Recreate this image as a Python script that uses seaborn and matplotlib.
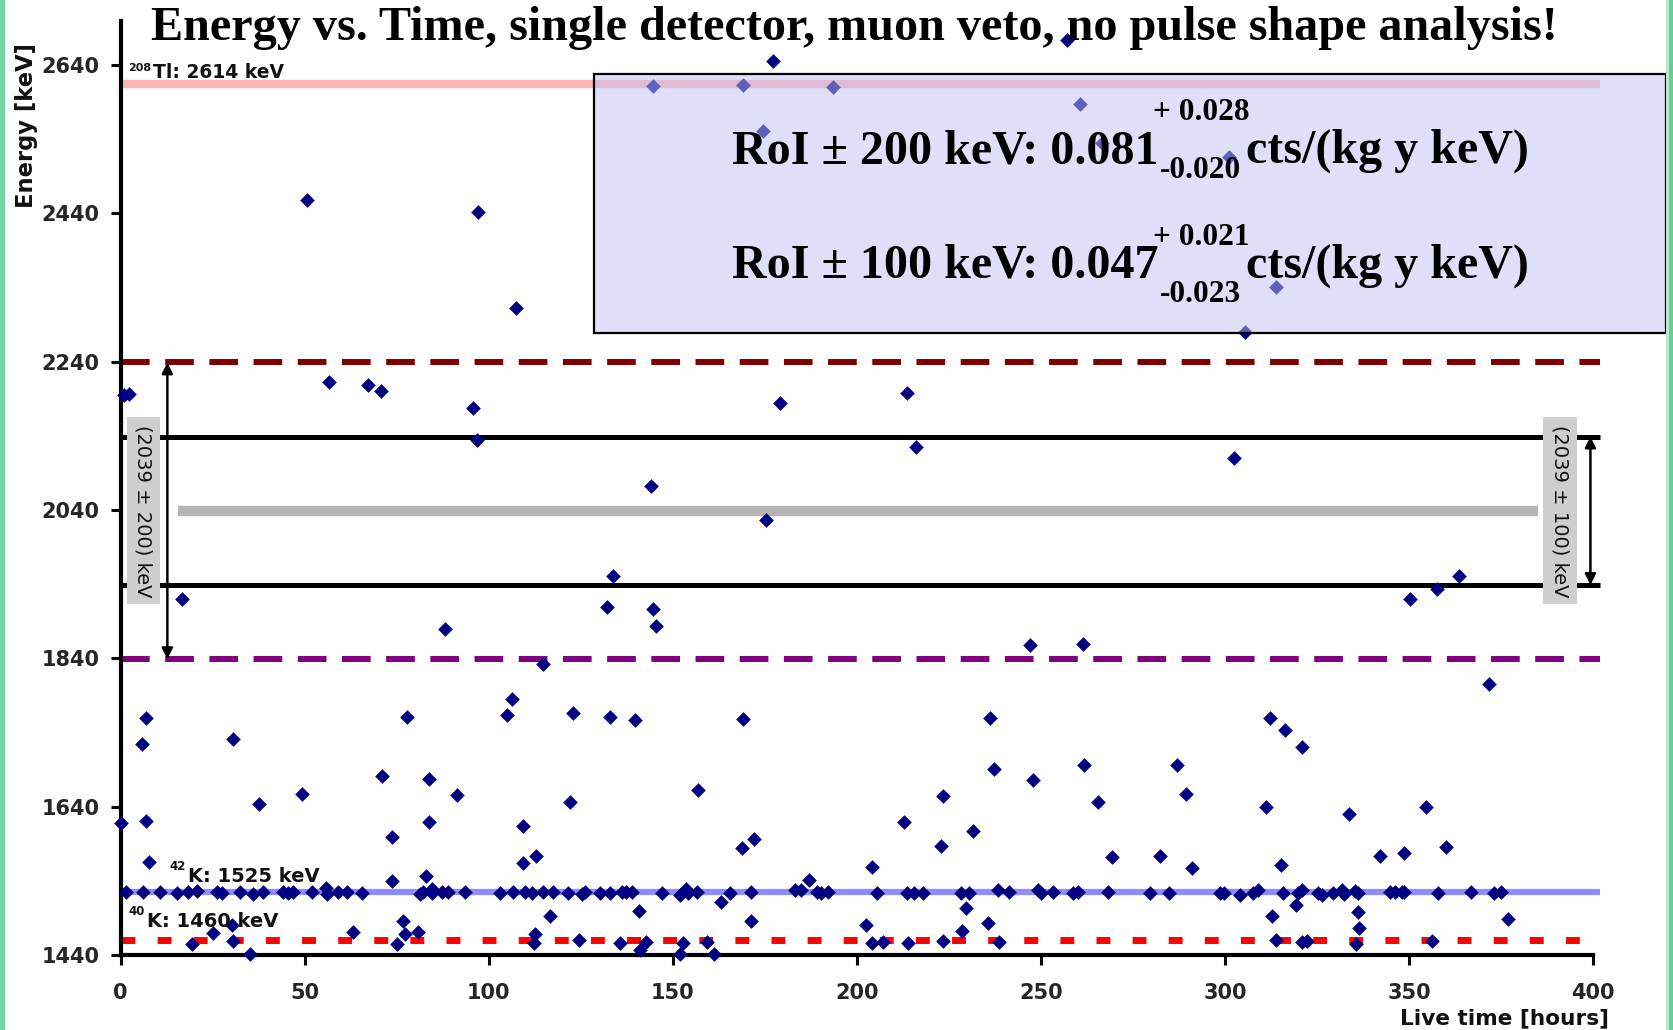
import numpy as np
import pandas as pd
import matplotlib
matplotlib.use("Agg")
import matplotlib.pyplot as plt
import seaborn as sns
from matplotlib.patches import Rectangle

# ---- event list: live time [hours] and energy [keV] ----
hours = [
    # high-energy events
    50.7, 97.1, 107.3, 144.6, 169.1, 193.4, 177.1, 174.4, 257.0, 260.5,
    266.6, 301.1, 313.9, 305.4,
    # 1800 - 2240 keV
    1.0, 2.3, 56.5, 67.3, 70.7, 95.7, 96.7, 144.1, 179.1, 175.4,
    16.6, 88.1, 133.8, 132.1, 144.7, 145.5, 114.7, 213.6, 216.2, 302.6,
    350.2, 357.7, 363.7, 247.0, 261.5, 371.7,
    # 1690 - 1800 keV
    7.0, 5.9, 30.5, 77.8, 106.3, 105.0, 123.0, 133.0, 139.8, 169.0,
    236.2, 312.3, 316.3, 321.0, 237.3, 261.8, 287.1,
    # 1540 - 1690 keV
    0.0, 6.8, 7.7, 37.6, 49.3, 71.1, 83.9, 91.4, 83.9, 73.8,
    73.7, 82.9, 122.1, 109.3, 109.3, 112.8, 156.8, 168.9, 172.1, 212.8,
    223.5, 222.8, 231.7, 247.9, 265.5, 204.0, 187.0, 289.3, 311.1, 333.8,
    354.6, 269.2, 282.4, 291.1, 315.2, 342.1, 348.7, 360.1,
    # below the 42K line
    116.7, 112.5, 112.3, 124.5, 76.8, 77.3, 80.9, 75.2, 63.1, 35.2,
    30.3, 30.5, 25.0, 19.5, 140.9, 171.3, 163.0, 229.7, 228.7, 235.7,
    202.5, 135.7, 141.1, 142.7, 152.0, 152.9, 159.4, 161.2, 204.0, 207.2,
    214.0, 223.5, 238.7, 312.9, 319.3, 336.2, 336.4, 377.0, 313.8, 320.9,
    322.4, 335.5, 356.2,
    # on the 42K line
    1.6, 6.2, 10.7, 15.2, 18.4, 20.8, 26.1, 27.5, 32.4, 36.1,
    38.8, 44.2, 45.6, 46.9, 51.9, 55.7, 56.0, 59.1, 61.4, 65.5,
    81.3, 82.2, 84.5, 84.5, 87.2, 89.0, 93.6, 103.1, 106.7, 109.9,
    111.7, 114.8, 117.5, 121.6, 125.3, 126.2, 130.2, 133.0, 136.1, 137.3,
    138.8, 147.0, 152.0, 153.6, 154.2, 156.5, 165.6, 171.3, 183.2, 184.8,
    189.1, 190.2, 192.3, 205.6, 213.7, 215.6, 217.9, 228.3, 230.5, 238.3,
    241.4, 249.1, 250.0, 253.4, 258.7, 260.2, 268.3, 279.6, 284.8, 298.7,
    299.8, 304.1, 307.7, 309.1, 315.7, 319.9, 321.0, 325.4, 326.5, 329.4,
    331.7, 332.4, 335.3, 336.2, 344.9, 346.2, 348.0, 348.7, 358.0, 366.9,
    373.2, 375.0,
]
energy_kev = [
    2458, 2442, 2313, 2612, 2613, 2610, 2645, 2551, 2674, 2588,
    2535, 2516, 2341, 2280,
    2195, 2196, 2212, 2209, 2201, 2177, 2134, 2072, 2185, 2027,
    1920, 1880, 1951, 1909, 1907, 1884, 1832, 2198, 2125, 2110,
    1920, 1934, 1951, 1858, 1860, 1806,
    1760, 1724, 1731, 1761, 1785, 1763, 1767, 1761, 1757, 1758,
    1759, 1760, 1743, 1720, 1691, 1696, 1696,
    1618, 1621, 1565, 1644, 1657, 1681, 1678, 1656, 1619, 1599,
    1540, 1547, 1646, 1614, 1564, 1574, 1662, 1584, 1596, 1620,
    1655, 1587, 1607, 1676, 1646, 1558, 1541, 1657, 1639, 1630,
    1639, 1572, 1574, 1557, 1561, 1574, 1578, 1585,
    1492, 1468, 1456, 1460, 1486, 1468, 1471, 1455, 1471, 1442,
    1480, 1459, 1470, 1455, 1500, 1486, 1512, 1504, 1472, 1483,
    1481, 1456, 1447, 1457, 1442, 1456, 1458, 1441, 1456, 1458,
    1456, 1459, 1458, 1493, 1507, 1498, 1477, 1489, 1460, 1458,
    1459, 1455, 1459,
    1525, 1525, 1525, 1523, 1525, 1526, 1525, 1523, 1525, 1522,
    1525, 1525, 1523, 1525, 1525, 1531, 1522, 1525, 1525, 1524,
    1522, 1525, 1529, 1524, 1525, 1525, 1525, 1524, 1525, 1525,
    1523, 1525, 1525, 1523, 1522, 1525, 1524, 1524, 1525, 1525,
    1525, 1523, 1521, 1529, 1524, 1525, 1524, 1525, 1527, 1527,
    1525, 1523, 1525, 1524, 1524, 1524, 1524, 1523, 1524, 1527,
    1525, 1527, 1524, 1525, 1524, 1525, 1525, 1524, 1524, 1524,
    1524, 1521, 1523, 1527, 1523, 1523, 1527, 1523, 1521, 1524,
    1528, 1522, 1526, 1524, 1525, 1525, 1525, 1525, 1524, 1525,
    1524, 1525,
]

x_ticks = [0, 50, 100, 150, 200, 250, 300, 350, 400]
y_ticks = [1440, 1640, 1840, 2040, 2240, 2440, 2640]

# reference energies [keV]
e_tl208 = 2614
e_k42 = 1525
e_k40 = 1460
q_bb = 2039
roi_wide = 200
roi_narrow = 100

events = pd.DataFrame({"hours": hours, "energy": energy_kev})

sns.set_style("ticks")
plt.rcParams["font.family"] = ["DejaVu Sans"]

W, H = 1673, 1030
fig = plt.figure(figsize=(W / 100, H / 100), dpi=100)
fig.patch.set_facecolor("white")


def fx(px):
    return px / W


def fy(py):
    return 1 - py / H


def fit_width(t, width_px):
    r = fig.canvas.get_renderer()
    w = t.get_window_extent(r).width
    t.set_fontsize(t.get_fontsize() * width_px / w)


def fit_height(t, height_px):
    r = fig.canvas.get_renderer()
    h = t.get_window_extent(r).height
    t.set_fontsize(t.get_fontsize() * height_px / h)


ax = fig.add_axes([fx(120.6), fy(955), (1593 - 120.6) / W, (955 - 20.6) / H])
ax.set_xlim(0, 400)
ax.set_ylim(1440, 2700)

# horizontal reference lines
x_end = 402
ax.plot([0, x_end], [e_tl208] * 2, color="#ffb4b4", lw=6, clip_on=False, zorder=2,
        solid_capstyle="butt")
ax.plot([0, x_end], [q_bb + roi_wide] * 2, color="#800000", lw=4.3,
        linestyle=(0, (4.8, 2.6)), clip_on=False, zorder=2)
ax.plot([0, x_end], [q_bb + roi_narrow] * 2, color="black", lw=3.6, clip_on=False,
        zorder=2, solid_capstyle="butt")
ax.plot([15.7, 385], [q_bb] * 2, color="#b4b4b4", lw=7.5, zorder=2,
        solid_capstyle="butt")
ax.plot([0, x_end], [q_bb - roi_narrow] * 2, color="black", lw=3.6, clip_on=False,
        zorder=2, solid_capstyle="butt")
ax.plot([0, x_end], [q_bb - roi_wide] * 2, color="#800080", lw=4.3,
        linestyle=(0, (4.8, 2.6)), clip_on=False, zorder=2)
ax.plot([0, x_end], [e_k42] * 2, color="#8c8cff", lw=4.5, clip_on=False, zorder=2,
        solid_capstyle="butt")
ax.plot([0, x_end], [e_k40] * 2, color="#ff0000", lw=5,
        linestyle=(0, (2.0, 3.2)), clip_on=False, zorder=2)

# events
sns.scatterplot(data=events, x="hours", y="energy", marker="D", s=56,
                color="#000080", linewidth=0, ax=ax, zorder=4, clip_on=False,
                legend=False)

# RoI arrows and labels
arrow_kw = dict(arrowstyle="<|-|>", lw=1.8, color="black", mutation_scale=16,
                shrinkA=0, shrinkB=0)
ax.annotate("", xy=(12.7, q_bb - roi_wide), xytext=(12.7, q_bb + roi_wide),
            arrowprops=arrow_kw, zorder=5)
ax.annotate("", xy=(399.3, q_bb - roi_narrow), xytext=(399.3, q_bb + roi_narrow),
            arrowprops=arrow_kw, zorder=5, annotation_clip=False)

roi_box = dict(boxstyle="square,pad=0.38", fc="#cecece", ec="none")
ax.text(6.2, q_bb, f"({q_bb} \u00b1 {roi_wide}) keV", rotation=-90, ha="center",
        va="center", fontsize=14, color="#111111", bbox=roi_box, zorder=6)
ax.text(391.0, q_bb, f"({q_bb} \u00b1 {roi_narrow}) keV", rotation=-90, ha="center",
        va="center", fontsize=14, color="#111111", bbox=roi_box, zorder=6,
        clip_on=False)

# line labels
lab_kw = dict(fontweight="bold", color="#111111", zorder=6, va="baseline")
ax.text(2.0, 2632, "208", fontsize=8, **lab_kw)
ax.text(8.8, 2623, f"Tl: {e_tl208} keV", fontsize=13.5, **lab_kw)
ax.text(13.2, 1554, "42", fontsize=8.5, **lab_kw)
ax.text(18.2, 1539, f"K: {e_k42} keV", fontsize=14, **lab_kw)
ax.text(2.2, 1494, "40", fontsize=8.5, **lab_kw)
ax.text(7.3, 1478, f"K: {e_k40} keV", fontsize=14, **lab_kw)

# axes styling
ax.set_xticks(x_ticks)
ax.set_yticks(y_ticks)
ax.set_xticklabels([str(v) for v in x_ticks], fontsize=15, fontweight="bold")
ax.set_yticklabels([str(v) for v in y_ticks], fontsize=15, fontweight="bold")
ax.tick_params(axis="both", direction="out", length=7, width=2.2, color="black")
ax.tick_params(axis="x", pad=13)
ax.tick_params(axis="y", pad=8)
for side in ("top", "right"):
    ax.spines[side].set_visible(False)
for side in ("left", "bottom"):
    ax.spines[side].set_linewidth(3)
    ax.spines[side].set_color("black")
ax.set_xlabel("")
ax.set_ylabel("")
ax.set_facecolor("white")

# axis titles
xl = fig.text(fx(1504), fy(1028), "Live time [hours]", ha="center", va="bottom",
              fontsize=15, fontweight="bold", color="#111111")
fit_width(xl, 210)
yl = fig.text(fx(27), fy(125), "Energy [keV]", rotation=90, ha="center", va="center",
              fontsize=16, fontweight="bold", color="#111111")
fit_height(yl, 165)

# headline
title = fig.text(fx(854.5), fy(40), "Energy vs. Time, single detector, muon veto, "
                 "no pulse shape analysis!", ha="center", va="baseline",
                 fontsize=28, fontweight="bold", family="Liberation Serif",
                 color="black", zorder=10)
fit_width(title, 1407)

# background-index panel
panel = Rectangle((fx(593.5), fy(332.7)), (1666 - 593.5) / W, (332.7 - 74) / H,
                  transform=fig.transFigure, facecolor=(193 / 255, 193 / 255, 247 / 255),
                  alpha=0.5, edgecolor="none", zorder=8)
fig.add_artist(panel)
panel_edge = Rectangle((fx(593.5), fy(332.7)), (1666 - 593.5) / W, (332.7 - 74) / H,
                       transform=fig.transFigure, facecolor="none",
                       edgecolor="black", lw=1.6, zorder=9)
fig.add_artist(panel_edge)

serif = dict(family="Liberation Serif", fontweight="bold", color="black",
             va="baseline", ha="left", zorder=10)
main1 = fig.text(fx(731.6), fy(163), f"RoI \u00b1 {roi_wide} keV: 0.081", fontsize=32, **serif)
fit_width(main1, 428)
big = main1.get_fontsize()
fig.text(fx(1246), fy(163), "cts/(kg y keV)", fontsize=big, **serif)
s1 = fig.text(fx(1153), fy(120), "+ 0.028", fontsize=22, **serif)
fit_width(s1, 96)
small = s1.get_fontsize()
fig.text(fx(1160), fy(178), "-0.020", fontsize=small, **serif)

fig.text(fx(731.6), fy(278), f"RoI \u00b1 {roi_narrow} keV: 0.047", fontsize=big, **serif)
fig.text(fx(1246), fy(278), "cts/(kg y keV)", fontsize=big, **serif)
fig.text(fx(1153), fy(245), "+ 0.021", fontsize=small, **serif)
fig.text(fx(1160), fy(301.7), "-0.023", fontsize=small, **serif)

# slide border accents
fig.add_artist(Rectangle((0, 0), fx(5), 1, transform=fig.transFigure,
                         facecolor="#74d6a0", edgecolor="none", zorder=11))
fig.add_artist(Rectangle((fx(1666), 0), fx(3), 1, transform=fig.transFigure,
                         facecolor="#b8ead0", edgecolor="none", zorder=11))
fig.add_artist(Rectangle((fx(1669), 0), fx(4), 1, transform=fig.transFigure,
                         facecolor="#66cf92", edgecolor="none", zorder=11))

fig.savefig("out.png", dpi=100, facecolor="white")
